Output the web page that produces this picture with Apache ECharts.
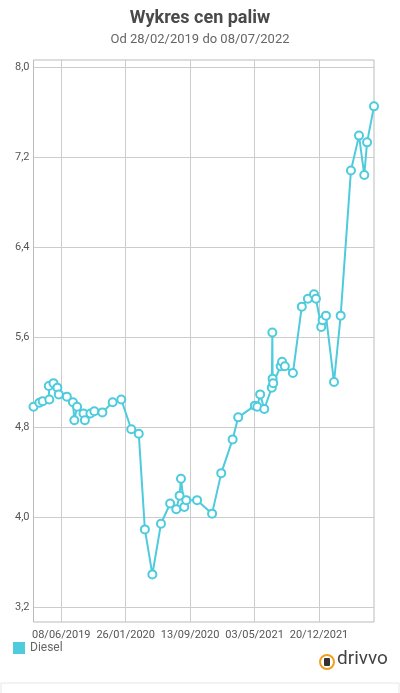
<!DOCTYPE html>
<html><head><meta charset="utf-8">
<script src="https://cdn.jsdelivr.net/npm/echarts@6/dist/echarts.min.js"></script>
<style>html,body{margin:0;padding:0;background:#fff}#c{width:400px;height:693px}</style>
</head><body><div id="c"></div>
<script>
// days since 28/02/2019
const days = [0,21,33,57,55,72,86,91,120,142,147,157,180,185,205,219,248,285,316,352,379,401,428,459,492,514,526,531,543,550,589,643,676,717,737,797,806,816,831,858,860,861,863,890,895,905,934,966,988,1010,1017,1036,1041,1053,1082,1106,1143,1172,1191,1201,1226];
const diesel = [4.98,5.016,5.03,5.045,5.164,5.19,5.15,5.09,5.07,5.02,4.86,4.98,4.92,4.86,4.92,4.94,4.93,5.02,5.045,4.78,4.74,3.89,3.49,3.94,4.12,4.07,4.19,4.34,4.09,4.15,4.15,4.03,4.39,4.69,4.886,4.99,4.98,5.09,4.96,5.15,5.64,5.23,5.19,5.34,5.38,5.34,5.28,5.87,5.94,5.98,5.94,5.69,5.75,5.79,5.20,5.79,7.08,7.39,7.04,7.33,7.65];
const tickDays = [100,332,564,796,1028];
const tickLabels = ['08/06/2019','26/01/2020','13/09/2020','03/05/2021','20/12/2021'];
const yTicks = [3.2,4.0,4.8,5.6,6.4,7.2,8.0];
const color = '#4ecbdc';
const chart = echarts.init(document.getElementById('c'));
chart.setOption({
  animation:false,
  title:{text:'Wykres cen paliw',subtext:'Od 28/02/2019 do 08/07/2022',left:'center',top:4,itemGap:6,
    textStyle:{fontSize:18,fontWeight:'bold',color:'#4a4a4a',fontFamily:'Roboto'},
    subtextStyle:{fontSize:13,color:'#666',fontFamily:'Roboto'}},
  legend:{left:8,top:637,itemWidth:12,itemHeight:12,icon:'rect',textStyle:{fontSize:12,color:'#666',fontFamily:'Roboto'},data:['Diesel']},
  grid:{left:33.5,right:26,top:60,bottom:71,show:true,borderColor:'#bbb',borderWidth:1},
  xAxis:{type:'value',min:0,max:1226,
    axisLine:{show:false},axisTick:{show:false,customValues:tickDays},
    axisLabel:{customValues:tickDays,fontSize:11,color:'#555',fontFamily:'Roboto',margin:8,
      formatter:v=>tickLabels[tickDays.indexOf(v)]||''},
    splitLine:{show:true,lineStyle:{color:'#ccc'}}},
  yAxis:{type:'value',min:3.067,max:8.062,
    axisLine:{show:false},axisTick:{show:false,customValues:yTicks},
    axisLabel:{customValues:yTicks,fontSize:11,color:'#555',fontFamily:'Roboto',margin:4,
      formatter:v=>v.toFixed(1).replace('.',',')},
    splitLine:{show:true,lineStyle:{color:'#ccc'}}},
  series:[{name:'Diesel',type:'line',data:days.map((d,i)=>[d,diesel[i]]),
    symbol:'emptyCircle',symbolSize:8,color:color,
    lineStyle:{width:2,color:color},itemStyle:{color:color,borderWidth:3}}],
  graphic:[
    {type:'circle',shape:{cx:327,cy:662,r:7},style:{fill:'none',stroke:'#f0a020',lineWidth:2}},
    {type:'rect',shape:{x:324,y:658,width:6,height:8,r:1},style:{fill:'#333'}},
    {type:'text',left:337,top:650,style:{text:'drivvo',fontSize:19,fill:'#444',fontFamily:'Roboto'}},
    {type:'rect',shape:{x:1,y:683,width:398,height:12},style:{fill:'#fff',stroke:'#e6e6e6'}}
  ]
});
</script></body></html>
